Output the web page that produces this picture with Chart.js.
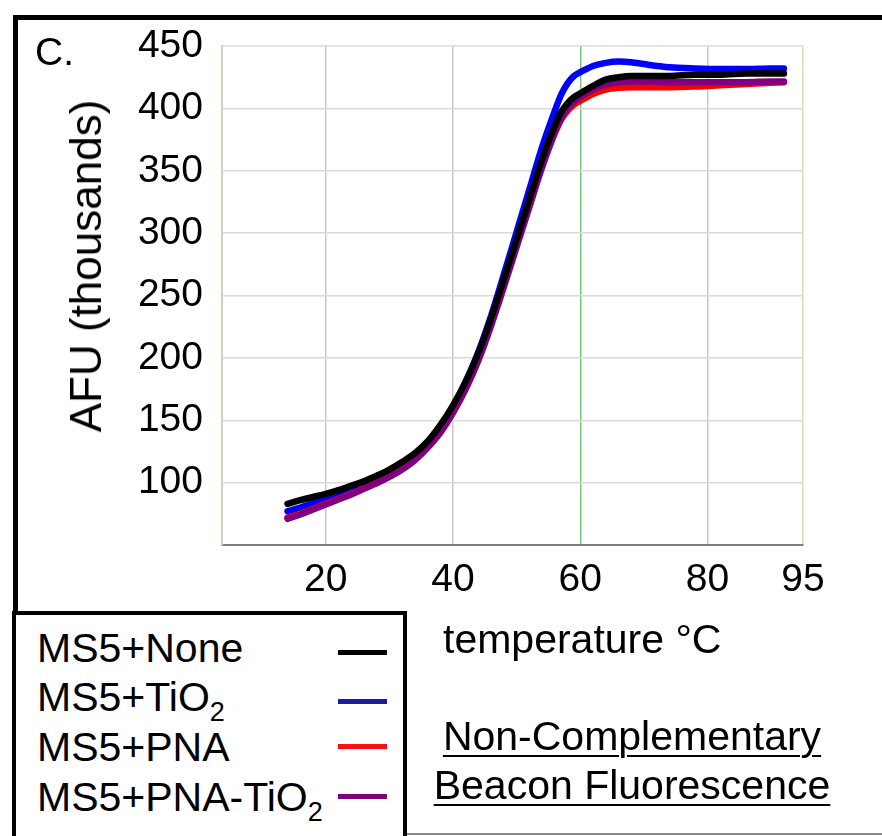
<!DOCTYPE html>
<html>
<head>
<meta charset="utf-8">
<script src="https://cdn.jsdelivr.net/npm/chart.js@4.4.0/dist/chart.umd.min.js"></script>
<style>
body { margin:0; background:#fff; font-family:"Liberation Sans", Arial, sans-serif; }
#wrap { position:relative; width:882px; height:836px; overflow:hidden; }
#meltChart { position:absolute; left:0; top:0; }
.txt { position:absolute; color:#000; white-space:nowrap; line-height:1; font-size:41px; }
.txt sub { font-size:0.66em; vertical-align:-0.36em; line-height:0; }
.frame { position:absolute; left:13px; top:15px; width:900px; height:620px; border-left:5px solid #000; border-top:5px solid #000; }
.legbox { position:absolute; left:12px; top:611px; width:387px; height:240px; border:4px solid #000; background:#fff; }
.swatch { position:absolute; left:338px; width:49px; height:5px; }
.ul { text-decoration:underline; text-decoration-thickness:2px; text-underline-offset:5px; }
.bottomline { position:absolute; left:405px; top:833px; width:477px; height:2px; background:#888; }
</style>
</head>
<body>
<div id="wrap">
  <div class="frame"></div>
  <canvas id="meltChart" width="882" height="836"></canvas>
  <div class="txt" style="left:35px; top:32px; font-size:39px;">C.</div>
  <div class="txt" style="left:86px; top:266px; transform:translate(-50%,-50%) rotate(-90deg); font-size:44px;">AFU (thousands)</div>
  <div class="txt" style="left:443px; top:619px;">temperature °C</div>
  <div class="txt ul" style="left:632px; top:716px; transform:translateX(-50%);">Non-Complementary</div>
  <div class="txt ul" style="left:632px; top:765px; transform:translateX(-50%);">Beacon Fluorescence</div>
  <div class="bottomline"></div>
  <div class="legbox"></div>
  <div class="txt" style="left:37px; top:628px;">MS5+None</div>
  <div class="txt" style="left:37px; top:677px;">MS5+TiO<sub>2</sub></div>
  <div class="txt" style="left:37px; top:727px;">MS5+PNA</div>
  <div class="txt" style="left:37px; top:777px;">MS5+PNA-TiO<sub>2</sub></div>
  <div class="swatch" style="top:650px; background:#000;"></div>
  <div class="swatch" style="top:699px; background:#1c1ca0;"></div>
  <div class="swatch" style="top:744px; background:#ff1010;"></div>
  <div class="swatch" style="top:794px; background:#800080;"></div>
</div>
<script>
var temps = [14,16,18,20,22,24,26,28,30,32,34,36,38,40,42,44,46,48,50,52,54,56,57,58,59,60,62,64,66,68,70,74,78,82,86,90,92];

var noneData = [83,86,88.5,91,94,97.5,101,105.5,110.5,116.5,123.5,133,146,162,181,204,232,263,295,327,359,386,397,404,409,412,418,423,425,426,426,426,427,427,428,428,428];
var tio2Data = [77,80,83.5,87,90.5,94.5,98.5,103,108.5,114.5,122,132,145,161,181,205,234,267,301,335,369,398,411,420,426,429,434,436.5,437.5,437,435.5,433,432,431.5,431.5,432,432];
var pnaData = [72,75,79,83,87,91,95.5,100,105,111,118.5,128.5,141,157,176,199,227,258,290,322,353,380,391,398,403,406,411.5,415,416.5,417,417,417,417.5,418.5,419.5,420.5,421];
var pnaTio2Data = [71,74.5,78.5,82.5,86.5,90.5,95,99.5,104.5,110.5,118,128,140,156,175,198,226,257,289,321,353,381,392,400,405,409,415,419,421,421.5,421.5,421,421,421,421,421.5,421.5];

var xTicks = [20,40,60,80,95];
var fontFam = '"Liberation Sans", Arial, sans-serif';

function toPoints(ys){
    return temps.map(function(t,i){ return {x:t, y:ys[i]}; });
}

var ctx = document.getElementById('meltChart');

var chart = new Chart(ctx, {
  type: 'line',
  data: {
    datasets: [{
      label: 'MS5+None',
      data: toPoints(noneData),
      borderColor: '#000000',
      borderWidth: 6.5,
      order: 0
    },{
      label: 'MS5+TiO2',
      data: toPoints(tio2Data),
      borderColor: '#0000ff',
      borderWidth: 6.5,
      order: 3
    },{
      label: 'MS5+PNA',
      data: toPoints(pnaData),
      borderColor: '#ff0000',
      borderWidth: 6.5,
      order: 2
    },{
      label: 'MS5+PNA-TiO2',
      data: toPoints(pnaTio2Data),
      borderColor: '#800080',
      borderWidth: 6.5,
      order: 1
    }]
  },
  options: {
    responsive: false,
    animation: false,
    layout: {
      padding: { left: 0, top: 46, right: 79, bottom: 231 }
    },
    elements: {
      point: { radius: 0 },
      line: { tension: 0.4, cubicInterpolationMode: 'monotone', borderCapStyle: 'round' }
    },
    plugins: {
      legend: { display: false },
      tooltip: { enabled: false }
    },
    scales: {
      x: {
        type: 'linear',
        min: 3.7,
        max: 95,
        afterBuildTicks: function(scale){
            scale.ticks = xTicks.map(function(v){ return {value: v}; });
        },
        afterFit: function(scale){ scale.height = 60; },
        ticks: {
          color: '#000',
          font: { size: 39, family: fontFam },
          padding: 12,
          autoSkip: false,
          maxRotation: 0
        },
        grid: {
          drawTicks: false,
          lineWidth: 1.5,
          color: function(c){
              if (c.tick && c.tick.value === 60) return '#7cc47c';
              if (c.tick && c.tick.value === 95) return '#dcd8c6';
              return '#c8c8c8';
          }
        },
        border: { color: '#808080', width: 2 }
      },
      y: {
        min: 50,
        max: 450,
        afterFit: function(scale){ scale.width = 222; },
        ticks: {
          stepSize: 50,
          color: '#000',
          font: { size: 39, family: fontFam },
          padding: 19,
          callback: function(v){ return v === 50 ? '' : v; }
        },
        grid: {
          drawTicks: false,
          lineWidth: 1.5,
          color: function(c){
              if (c.tick && c.tick.value === 450) return '#e2dece';
              return '#dadada';
          }
        },
        border: { color: '#d4d0c0', width: 2 }
      }
    }
  }
});
</script>
</body>
</html>
